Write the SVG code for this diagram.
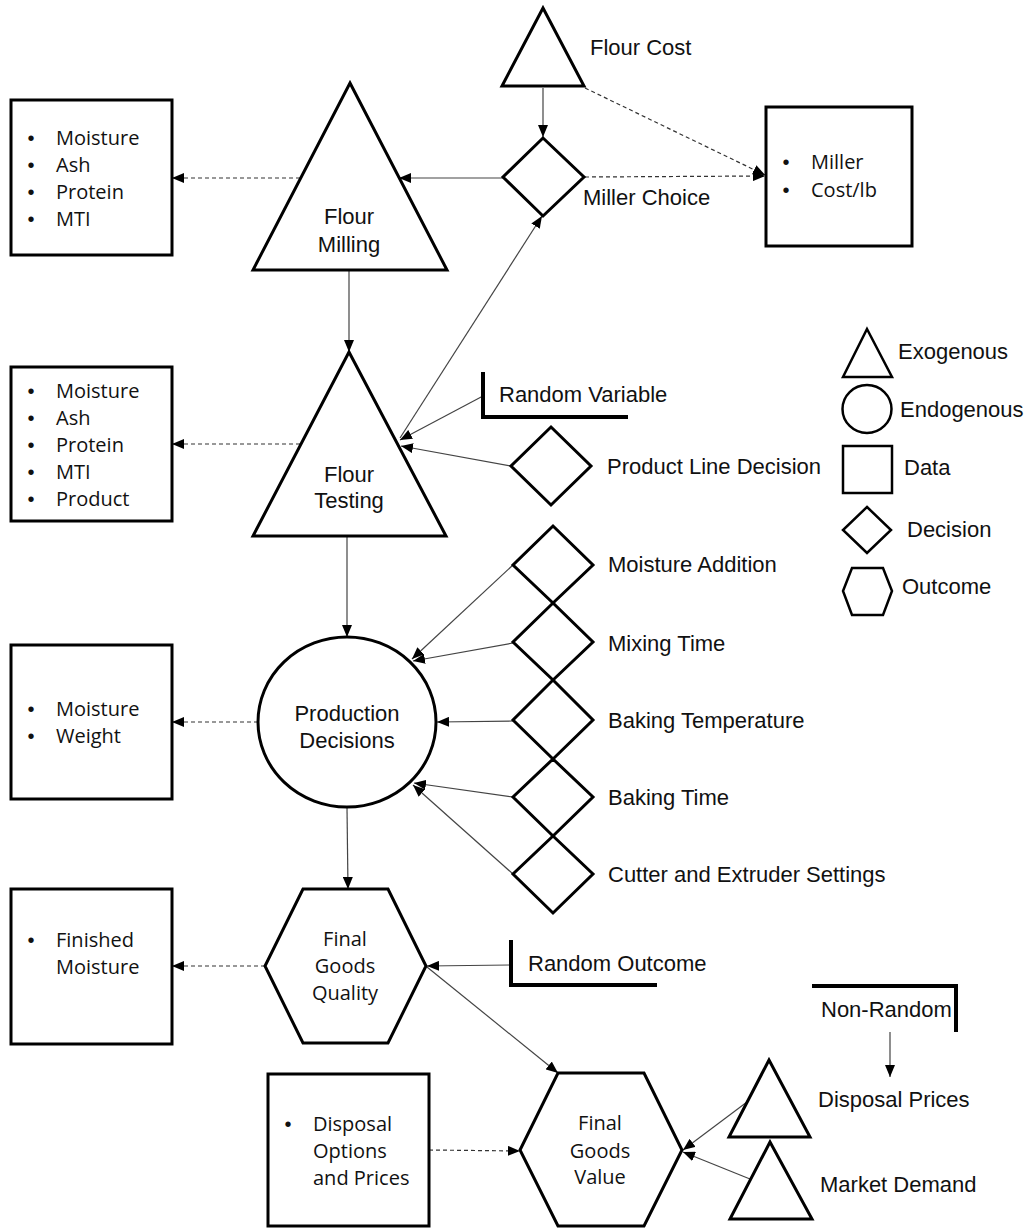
<svg xmlns="http://www.w3.org/2000/svg" width="1029" height="1228" viewBox="0 0 1029 1228">
<style>
.shape{fill:#fff;stroke:#000;stroke-width:3;stroke-linejoin:miter}
.lg{fill:#fff;stroke:#000;stroke-width:2.5}
.br{fill:none;stroke:#000;stroke-width:4}
.c{fill:none;stroke:#444;stroke-width:1.2;marker-end:url(#ah)}
.d{fill:none;stroke:#333;stroke-width:1.2;stroke-dasharray:4 3;marker-end:url(#ah)}
.a{font-family:"Liberation Sans",Arial,sans-serif;font-size:22px;fill:#111}
.b{font-family:"Open Sans","Noto Sans",sans-serif;font-size:20px;fill:#111}
.u{font-family:"Liberation Sans",Arial,sans-serif;font-size:20px;fill:#111;text-anchor:middle}
.m{text-anchor:middle}
</style>
<defs>
<marker id="ah" markerUnits="userSpaceOnUse" markerWidth="12" markerHeight="10" refX="12" refY="5" orient="auto">
<path d="M0,0 L12,5 L0,10 z" fill="#000"/>
</marker>
</defs>
<rect width="1029" height="1228" fill="#fff"/>

<g id="connectors">
<line class="c" x1="543" y1="88" x2="543" y2="137"/>
<line class="d" x1="585" y1="88" x2="765" y2="175"/>
<line class="d" x1="585" y1="177" x2="765" y2="176"/>
<line class="c" x1="503" y1="178" x2="399" y2="178"/>
<line class="d" x1="300" y1="178" x2="172" y2="178"/>
<line class="c" x1="349" y1="271" x2="349" y2="352"/>
<line class="d" x1="300" y1="444" x2="172" y2="444"/>
<line class="c" x1="400" y1="438" x2="542" y2="216"/>
<line class="c" x1="483" y1="396" x2="400" y2="440"/>
<line class="c" x1="511" y1="466" x2="401" y2="446"/>
<line class="c" x1="347" y1="537" x2="347" y2="637"/>
<line class="d" x1="258" y1="722" x2="172" y2="722"/>
<line class="c" x1="513" y1="565" x2="412" y2="659"/>
<line class="c" x1="513" y1="643" x2="413" y2="661"/>
<line class="c" x1="513" y1="721" x2="437" y2="722"/>
<line class="c" x1="513" y1="797" x2="414" y2="783"/>
<line class="c" x1="513" y1="874" x2="413" y2="785"/>
<line class="c" x1="347" y1="808" x2="348" y2="889"/>
<line class="d" x1="265" y1="966" x2="172" y2="966"/>
<line class="c" x1="510" y1="965" x2="427" y2="966"/>
<line class="c" x1="427" y1="967" x2="558" y2="1073"/>
<line class="d" x1="429" y1="1150" x2="520" y2="1151"/>
<line class="c" x1="747" y1="1102" x2="683" y2="1150"/>
<line class="c" x1="750" y1="1179" x2="683" y2="1152"/>
<line class="c" x1="890" y1="1032" x2="890" y2="1077"/>
</g>

<g id="flour-cost">
<polygon class="shape" points="543,8 584,86 502,86"/>
<text class="a" x="590" y="55">Flour Cost</text>
</g>

<g id="miller-choice">
<polygon class="shape" points="543,138 584,177 543,216 503,177"/>
<text class="a" x="583" y="205">Miller Choice</text>
</g>

<g id="miller-data">
<rect class="shape" x="766" y="107" width="146" height="139"/>
<text class="u" x="786" y="169">•</text><text class="b" x="811" y="169">Miller</text>
<text class="u" x="786" y="197">•</text><text class="b" x="811" y="197">Cost/lb</text>
</g>

<g id="flour-milling">
<polygon class="shape" points="350,83 447,270 253,270"/>
<text class="a m" x="349" y="224">Flour</text>
<text class="a m" x="349" y="252">Milling</text>
</g>

<g id="milling-data">
<rect class="shape" x="11" y="100" width="161" height="155"/>
<text class="u" x="31" y="145">•</text><text class="b" x="56" y="145">Moisture</text>
<text class="u" x="31" y="172">•</text><text class="b" x="56" y="172">Ash</text>
<text class="u" x="31" y="199">•</text><text class="b" x="56" y="199">Protein</text>
<text class="u" x="31" y="226">•</text><text class="b" x="56" y="226">MTI</text>
</g>

<g id="flour-testing">
<polygon class="shape" points="349,352 446,536 253,536"/>
<text class="a m" x="349" y="482">Flour</text>
<text class="a m" x="349" y="508">Testing</text>
</g>

<g id="testing-data">
<rect class="shape" x="11" y="367" width="161" height="154"/>
<text class="u" x="31" y="398">•</text><text class="b" x="56" y="398">Moisture</text>
<text class="u" x="31" y="425">•</text><text class="b" x="56" y="425">Ash</text>
<text class="u" x="31" y="452">•</text><text class="b" x="56" y="452">Protein</text>
<text class="u" x="31" y="479">•</text><text class="b" x="56" y="479">MTI</text>
<text class="u" x="31" y="506">•</text><text class="b" x="56" y="506">Product</text>
</g>

<g id="random-variable">
<polyline class="br" points="483,372 483,417 628,417"/>
<text class="a" x="499" y="402">Random Variable</text>
</g>

<g id="product-line-decision">
<polygon class="shape" points="551,427 591,466 551,505 511,466"/>
<text class="a" x="607" y="474">Product Line Decision</text>
</g>

<g id="legend">
<polygon class="lg" points="867,329 892,377 843,377"/>
<text class="a" x="898" y="359">Exogenous</text>
<ellipse class="lg" cx="867" cy="409" rx="24.5" ry="24"/>
<text class="a" x="900" y="417">Endogenous</text>
<rect class="lg" x="843" y="446" width="49" height="47"/>
<text class="a" x="904" y="475">Data</text>
<polygon class="lg" points="867,507 891,530 867,553 843,530"/>
<text class="a" x="907" y="537">Decision</text>
<polygon class="lg" points="852,568 883,568 892,591 883,615 852,615 843,591"/>
<text class="a" x="902" y="594">Outcome</text>
</g>

<g id="moisture-addition">
<polygon class="shape" points="553,526 593,565 553,603 513,565"/>
<text class="a" x="608" y="572">Moisture Addition</text>
</g>
<g id="mixing-time">
<polygon class="shape" points="553,603 593,642 553,680 513,642"/>
<text class="a" x="608" y="651">Mixing Time</text>
</g>
<g id="baking-temperature">
<polygon class="shape" points="553,680 593,720 553,759 513,720"/>
<text class="a" x="608" y="728">Baking Temperature</text>
</g>
<g id="baking-time">
<polygon class="shape" points="553,759 593,797 553,836 513,797"/>
<text class="a" x="608" y="805">Baking Time</text>
</g>
<g id="cutter-extruder">
<polygon class="shape" points="553,836 593,874 553,913 513,874"/>
<text class="a" x="608" y="882">Cutter and Extruder Settings</text>
</g>

<g id="production-decisions">
<ellipse class="shape" cx="347" cy="722" rx="89" ry="85"/>
<text class="a m" x="347" y="721">Production</text>
<text class="a m" x="347" y="748">Decisions</text>
</g>

<g id="production-data">
<rect class="shape" x="11" y="645" width="161" height="154"/>
<text class="u" x="31" y="716">•</text><text class="b" x="56" y="716">Moisture</text>
<text class="u" x="31" y="743">•</text><text class="b" x="56" y="743">Weight</text>
</g>

<g id="final-goods-quality">
<polygon class="shape" points="303,889 388,889 426,966 388,1043 303,1043 265,966"/>
<text class="b m" x="345" y="946">Final</text>
<text class="b m" x="345" y="973">Goods</text>
<text class="b m" x="345" y="1000">Quality</text>
</g>

<g id="quality-data">
<rect class="shape" x="11" y="889" width="161" height="155"/>
<text class="u" x="31" y="947">•</text><text class="b" x="56" y="947">Finished</text>
<text class="b" x="56" y="974">Moisture</text>
</g>

<g id="random-outcome">
<polyline class="br" points="511,940 511,985 657,985"/>
<text class="a" x="528" y="971">Random Outcome</text>
</g>

<g id="non-random">
<polyline class="br" points="812,986 956,986 956,1032"/>
<text class="a" x="821" y="1017">Non-Random</text>
</g>

<g id="disposal-data">
<rect class="shape" x="268" y="1074" width="161" height="152"/>
<text class="u" x="288" y="1131">•</text><text class="b" x="313" y="1131">Disposal</text>
<text class="b" x="313" y="1158">Options</text>
<text class="b" x="313" y="1185">and Prices</text>
</g>

<g id="final-goods-value">
<polygon class="shape" points="558,1073 644,1073 682,1150 644,1226 558,1226 520,1150"/>
<text class="b m" x="600" y="1130">Final</text>
<text class="b m" x="600" y="1158">Goods</text>
<text class="b m" x="600" y="1184">Value</text>
</g>

<g id="disposal-prices">
<polygon class="shape" points="769,1060 810,1137 729,1137"/>
<text class="a" x="818" y="1107">Disposal Prices</text>
</g>

<g id="market-demand">
<polygon class="shape" points="770,1142 812,1219 730,1219"/>
<text class="a" x="820" y="1192">Market Demand</text>
</g>
</svg>
